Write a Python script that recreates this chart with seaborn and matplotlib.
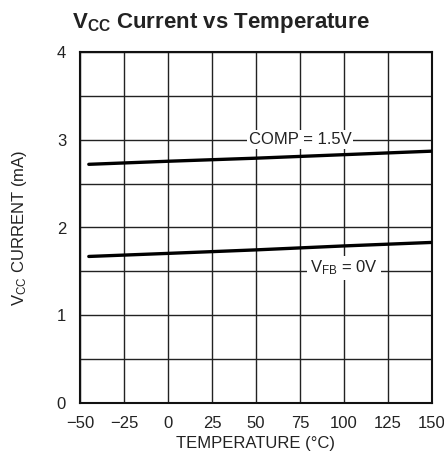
import numpy as np
import pandas as pd
import matplotlib
matplotlib.use("Agg")
import matplotlib.pyplot as plt
import seaborn as sns

# data
temps = [-45, 0, 50, 100, 150]
comp_ma = [2.72, 2.755, 2.79, 2.83, 2.87]
vfb_ma = [1.67, 1.705, 1.745, 1.79, 1.83]
x_ticks = [-50, -25, 0, 25, 50, 75, 100, 125, 150]
y_ticks = [0, 1, 2, 3, 4]

sns.set_style("white")
plt.rcParams['font.family'] = ['Liberation Sans Narrow', 'Liberation Sans', 'DejaVu Sans']
plt.rcParams['mathtext.fontset'] = 'custom'
plt.rcParams['mathtext.rm'] = 'Liberation Sans'
plt.rcParams['mathtext.it'] = 'Liberation Sans'
plt.rcParams['mathtext.bf'] = 'Liberation Sans:bold'
plt.rcParams['mathtext.default'] = 'regular'

df = pd.DataFrame({
    'temp': temps * 2,
    'current': comp_ma + vfb_ma,
    'cond': ['COMP = 1.5V'] * len(temps) + ['VFB = 0V'] * len(temps),
})

fig = plt.figure(figsize=(4.44, 4.61), dpi=100)
ax = fig.add_axes([80 / 444, 1 - 403 / 461, 352 / 444, 351 / 461])

sns.lineplot(data=df, x='temp', y='current', units='cond', estimator=None,
             color='black', linewidth=2.4, ax=ax, legend=False, zorder=3)

ax.set_xlim(-50, 150)
ax.set_ylim(0, 4)
ax.set_xticks(x_ticks)
ax.set_yticks(y_ticks)
ax.set_xticklabels([f'{t}'.replace('-', '\u2212') for t in x_ticks])
ax.set_yticks(np.arange(0.5, 4, 1.0), minor=True)
ax.grid(True, which='both', color='#222222', linewidth=1.0)
ax.tick_params(which='both', length=0, labelsize=12, colors='#222222')
ax.tick_params(axis='x', pad=9)
ax.tick_params(axis='y', pad=10)
for s in ax.spines.values():
    s.set_color('#111111')
    s.set_linewidth(1.5)

ax.text(75, 3.0, 'COMP = 1.5V', ha='center', va='center', fontsize=12,
        color='#222222', zorder=4,
        bbox=dict(facecolor='white', edgecolor='none', pad=1.5))
ax.text(100, 1.54, 'V$_{FB}$ = 0V', ha='center', va='center', fontsize=12,
        color='#222222', zorder=4,
        bbox=dict(facecolor='white', edgecolor='none', pad=2))

ax.set_xlabel('TEMPERATURE (°C)', fontsize=12, color='#222222', labelpad=4)
ax.set_ylabel('V$_{CC}$ CURRENT (mA)', fontsize=12, color='#222222', labelpad=20)
ax.set_title('$\\mathbf{V_{CC}}$ Current vs Temperature', fontsize=16,
             fontweight='bold', color='#222222', pad=17, x=0.40)

fig.savefig('out.png', dpi=100)
